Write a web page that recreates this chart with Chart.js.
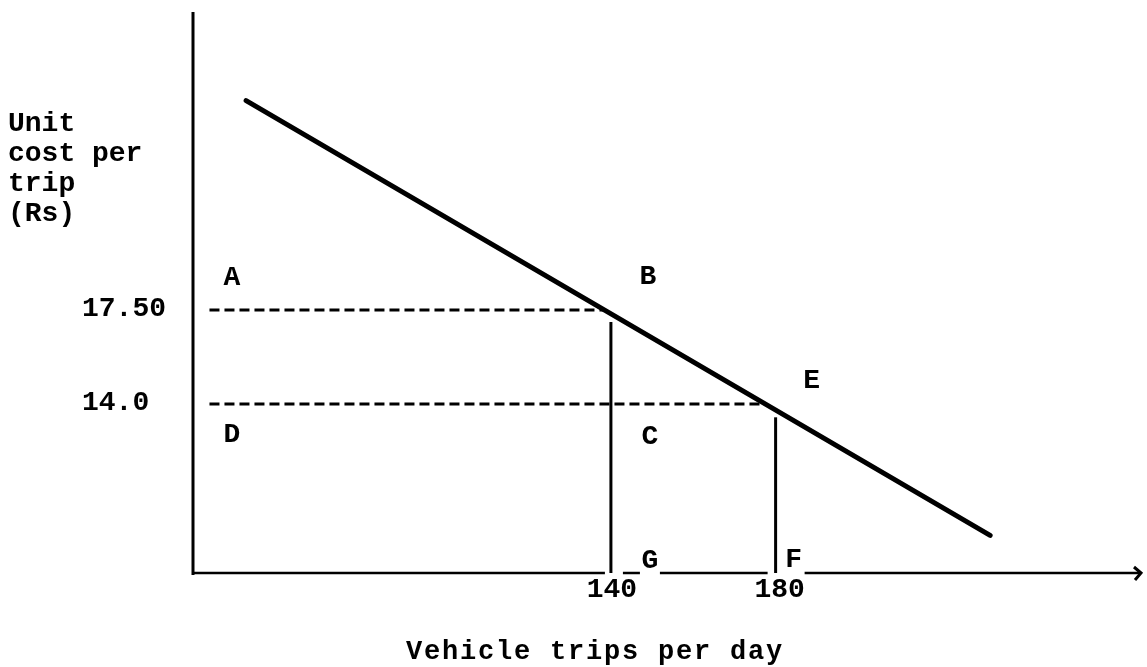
<!DOCTYPE html>
<html>
<head>
<meta charset="utf-8">
<script src="https://cdn.jsdelivr.net/npm/chart.js@4.4.1/dist/chart.umd.min.js"></script>
<style>
  html,body{margin:0;padding:0;background:#fff;}
  canvas{display:block;}
</style>
</head>
<body>
<canvas id="c" width="1147" height="667"></canvas>
<script>
// axis ranges (schematic, axes do not start at zero)
const xMin=38.5, xMax=268.5;
const yMin=7.7, yMax=28.6;

// tick labels
const xTicks=[140,180];
const xTickLabels=["140","180"];
const yTicks=[17.5,14.0];
const yTickLabels=["17.50","14.0"];

// unit cost line (two end points)
const costX=[51.4,232.1];
const costY=[25.3,9.1];

// dashed reference lines at the two costs
const refY=[17.5,14.0];
const refStartX=[42.5,42.5];
const refEndX=[138.6,176.7];

// drop lines down to the x axis
const dropX=[140,180];
const dropTopY=[17.05,13.5];

const yTitle=["Unit","cost per","trip","(Rs)"];
const xTitle="Vehicle trips per day";

const ink="#000";
const monoFont="'Liberation Mono','Courier New',monospace";

function seg(x0,y0,x1,y1){ return [{x:x0,y:y0},{x:x1,y:y1}]; }

const datasets=[];
datasets.push({label:"Unit cost",data:seg(costX[0],costY[0],costX[1],costY[1]),
  borderColor:ink,borderWidth:5,borderCapStyle:"round"});
refY.forEach((v,i)=>{
  datasets.push({label:"ref "+v,data:seg(refStartX[i],v,refEndX[i],v),
    borderColor:ink,borderWidth:3,borderDash:[10,5]});
});
dropX.forEach((v,i)=>{
  datasets.push({label:"drop "+v,data:seg(v,yMin,v,dropTopY[i]),
    borderColor:ink,borderWidth:3});
});
datasets.forEach(d=>{ d.showLine=true; d.pointRadius=0; d.fill=false; d.clip=false; });

// axes, breaks and arrow
const axesPlugin={
  id:"axesPlugin",
  beforeDatasetsDraw(chart){
    const {ctx,chartArea:a,scales:{x,y}}=chart;
    ctx.save();
    ctx.strokeStyle=ink; ctx.lineWidth=3;
    ctx.beginPath(); ctx.moveTo(a.left,a.top); ctx.lineTo(a.left,a.bottom+2); ctx.stroke();
    ctx.lineWidth=2.5;
    ctx.beginPath(); ctx.moveTo(a.left,a.bottom); ctx.lineTo(a.right,a.bottom); ctx.stroke();
    // arrow head
    ctx.lineWidth=3;
    ctx.beginPath(); ctx.moveTo(a.right-6,a.bottom-6); ctx.lineTo(a.right+1,a.bottom); ctx.lineTo(a.right-5,a.bottom+7); ctx.stroke();
    // breaks in the x axis next to the drop lines and letters
    const p140=x.getPixelForValue(dropX[0]), p180=x.getPixelForValue(dropX[1]);
    ctx.fillStyle="#fff";
    ctx.fillRect(p140-6,a.bottom-3,18,6);
    ctx.fillRect(p140+29,a.bottom-3,20,6);
    ctx.fillRect(p180-8,a.bottom-3,37,6);
    ctx.restore();
  },
  afterDraw(chart){
    const {ctx,chartArea:a,scales:{x,y}}=chart;
    ctx.save();
    ctx.fillStyle=ink;
    ctx.font="bold 28px "+monoFont;
    // y tick labels
    ctx.textAlign="left"; ctx.textBaseline="middle";
    yTicks.forEach((v,i)=>ctx.fillText(yTickLabels[i],82,y.getPixelForValue(v)-1));
    // x tick labels
    ctx.textAlign="center";
    const xOff=[1,4];
    xTicks.forEach((v,i)=>ctx.fillText(xTickLabels[i],x.getPixelForValue(v)+xOff[i],a.bottom+17));
    // point letters
    const ax=xMin, ay=yMin;
    const letters=[["A",ax,refY[0],39,-32],["B",dropX[0],refY[0],37,-33],["E",dropX[1],refY[1],36,-23],
      ["D",ax,refY[1],39,31],["C",dropX[0],refY[1],39,33],["G",dropX[0],ay,39,-12],["F",dropX[1],ay,18,-13]];
    letters.forEach(([t,vx,vy,dx,dy])=>ctx.fillText(t,x.getPixelForValue(vx)+dx,y.getPixelForValue(vy)+dy));
    // y title
    ctx.textAlign="left"; ctx.textBaseline="alphabetic";
    yTitle.forEach((s,i)=>ctx.fillText(s,8,131+30*i));
    // x title
    ctx.font="bold 27px "+monoFont;
    if("letterSpacing" in ctx) ctx.letterSpacing="1.8px";
    ctx.fillText(xTitle,406,659);
    ctx.restore();
  }
};

new Chart(document.getElementById("c").getContext("2d"),{
  type:"scatter",
  data:{datasets},
  options:{
    responsive:false,animation:false,
    layout:{padding:{left:193,top:12,right:7,bottom:94}},
    scales:{
      x:{type:"linear",min:xMin,max:xMax,display:false},
      y:{type:"linear",min:yMin,max:yMax,display:false}
    },
    plugins:{legend:{display:false},tooltip:{enabled:false}}
  },
  plugins:[axesPlugin]
});
</script>
</body>
</html>
